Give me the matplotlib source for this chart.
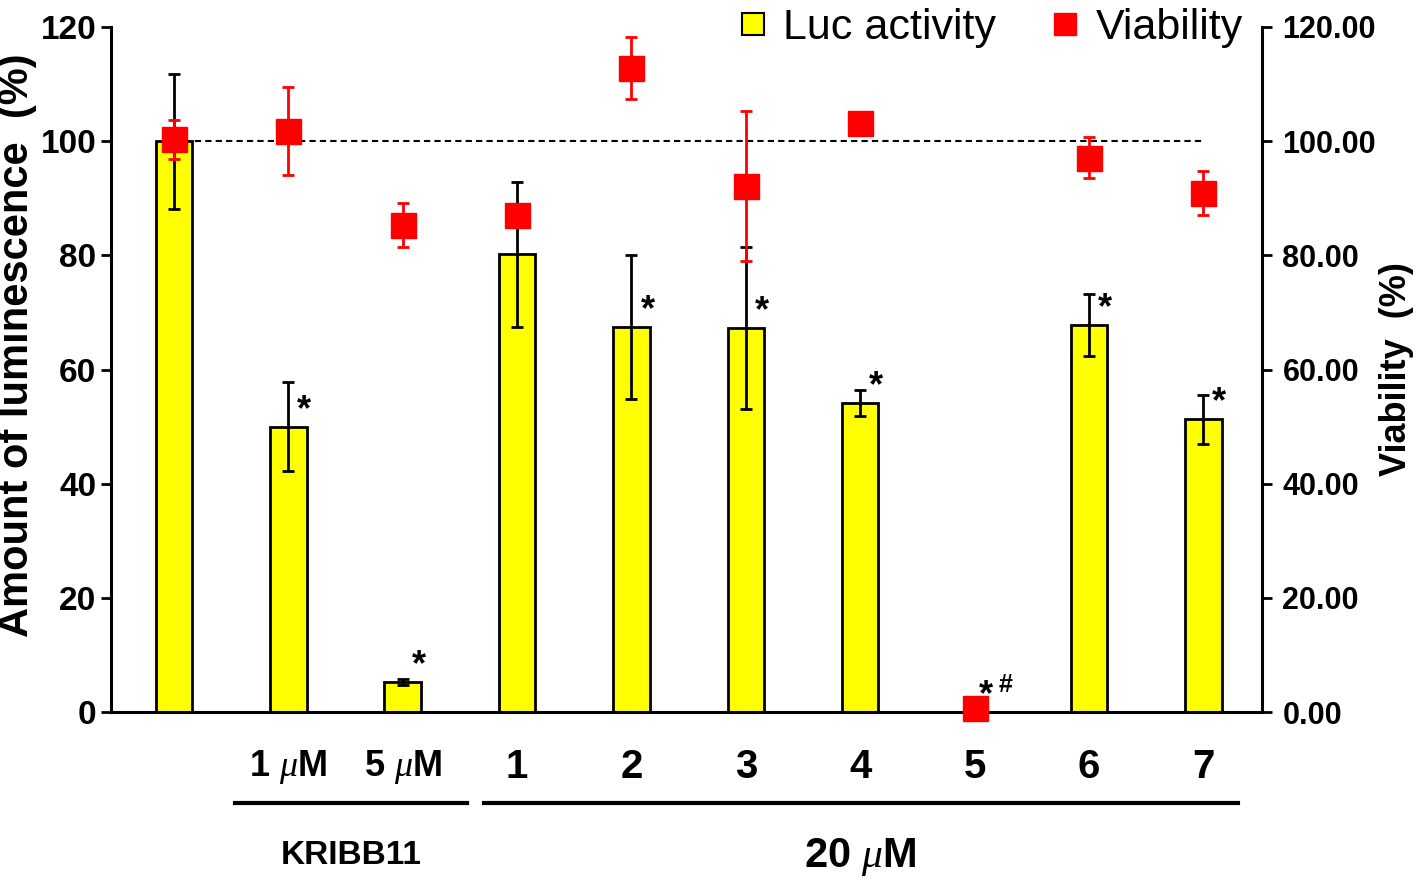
import matplotlib
matplotlib.use("Agg")
import matplotlib.pyplot as plt
from matplotlib.lines import Line2D

plt.rcParams['font.family'] = ['Liberation Sans', 'DejaVu Sans']
plt.rcParams['mathtext.fontset'] = 'custom'
plt.rcParams['mathtext.it'] = 'Liberation Serif:italic'
plt.rcParams['mathtext.rm'] = 'Liberation Sans:bold'

# data
labels = ['', r'1 $\mu$M', r'5 $\mu$M', '1', '2', '3', '4', '5', '6', '7']
luc = [100, 50.0, 5.3, 80.2, 67.5, 67.3, 54.1, 0, 67.8, 51.3]
luc_err = [11.8, 7.8, 0.5, 12.7, 12.6, 14.2, 2.3, 0, 5.5, 4.3]
viab = [100.3, 101.8, 85.3, 87.1, 112.8, 92.1, 103.2, 0.7, 97.1, 90.9]
viab_err = [3.4, 7.7, 3.8, 1.5, 5.4, 13.1, 0.8, 0.3, 3.6, 3.9]
star_idx = [1, 2, 4, 5, 6, 8, 9]
x = list(range(len(labels)))

fig = plt.figure(figsize=(14.16, 8.82), dpi=100)
ax = fig.add_axes([0.0784, 0.1927, 0.8126, 0.7767])

ax.plot([0, 9], [100, 100], ls=(0, (3, 2)), color='black', lw=1.5, zorder=1)
ax.bar(x, luc, width=0.32, color='#ffff00', edgecolor='black', linewidth=2, zorder=2)
ax.errorbar(x, luc, yerr=luc_err, fmt='none', ecolor='black', elinewidth=2,
            capsize=4, capthick=2, zorder=3)

for i in star_idx:
    ax.text(i + 0.14, luc[i] + 1.2, '*', fontsize=26, fontweight='bold',
            ha='center', va='baseline', zorder=5)
ax.text(7 + 0.1, 1.2, '*', fontsize=26, fontweight='bold', ha='center', va='baseline')
ax.text(7 + 0.27, 3.5, '#', fontsize=18, fontweight='bold', ha='center', va='baseline')

ax.set_xlim(-0.55, 9.51)
ax.set_ylim(0, 120)
ax.set_yticks(range(0, 121, 20))
ax.set_xticks(x)
ax.set_xticklabels(labels)
for i, t in enumerate(ax.get_xticklabels()):
    t.set_fontweight('bold')
    t.set_fontsize(26 if i < 3 else 29)
ax.tick_params(axis='x', length=0, pad=26)
ax.tick_params(axis='y', labelsize=24, width=2, length=7, direction='out')
for t in ax.get_yticklabels():
    t.set_fontweight('bold')
ax.set_ylabel('Amount of luminescence  (%)', fontsize=30, fontweight='bold')
ax.yaxis.set_label_coords(-0.064, 0.535)

for s in ['top', 'right']:
    ax.spines[s].set_visible(False)
ax.spines['left'].set_linewidth(2.2)
ax.spines['bottom'].set_linewidth(2.2)

ax2 = ax.twinx()
ax2.set_ylim(0, 120)
ax2.set_yticks(range(0, 121, 20))
ax2.set_yticklabels(['%.2f' % v for v in range(0, 121, 20)])
ax2.errorbar(x, viab, yerr=viab_err, fmt='s', color='#ff0000', ecolor='#ff0000',
             markersize=18, elinewidth=2, capsize=4, capthick=2, clip_on=False, zorder=4)
ax2.tick_params(axis='y', labelsize=22, width=2, length=7, direction='out', pad=8)
for t in ax2.get_yticklabels():
    t.set_fontweight('bold')
ax2.set_ylabel('Viability  (%)', fontsize=26, fontweight='bold', labelpad=2)
for s in ['top', 'left', 'bottom']:
    ax2.spines[s].set_visible(False)
ax2.spines['right'].set_linewidth(2.2)

# group brackets under x labels
tr = ax.get_xaxis_transform()
ax.plot([0.53, 2.56], [-0.133, -0.133], color='black', lw=3, transform=tr, clip_on=False)
ax.plot([2.71, 9.30], [-0.133, -0.133], color='black', lw=3, transform=tr, clip_on=False)
ax.text(1.55, -0.21, 'KRIBB11', fontsize=24, fontweight='bold', ha='center', va='center',
        transform=tr)
ax.text(6.0, -0.212, r'20 $\mu$M', fontsize=30, fontweight='bold', ha='center', va='center',
        transform=tr)

handles = [
    Line2D([], [], ls='none', marker='s', markersize=16, markerfacecolor='#ffff00',
           markeredgecolor='black', markeredgewidth=1.5),
    Line2D([], [], ls='none', marker='s', markersize=16, markerfacecolor='#ff0000',
           markeredgecolor='#ff0000'),
]
fig.legend(handles, ['Luc activity', 'Viability'], loc='upper right', ncol=2,
           bbox_to_anchor=(0.905, 1.035), frameon=False, fontsize=31,
           handlelength=0.8, handletextpad=0.3, columnspacing=1.2)

fig.savefig('out.png', dpi=100)
